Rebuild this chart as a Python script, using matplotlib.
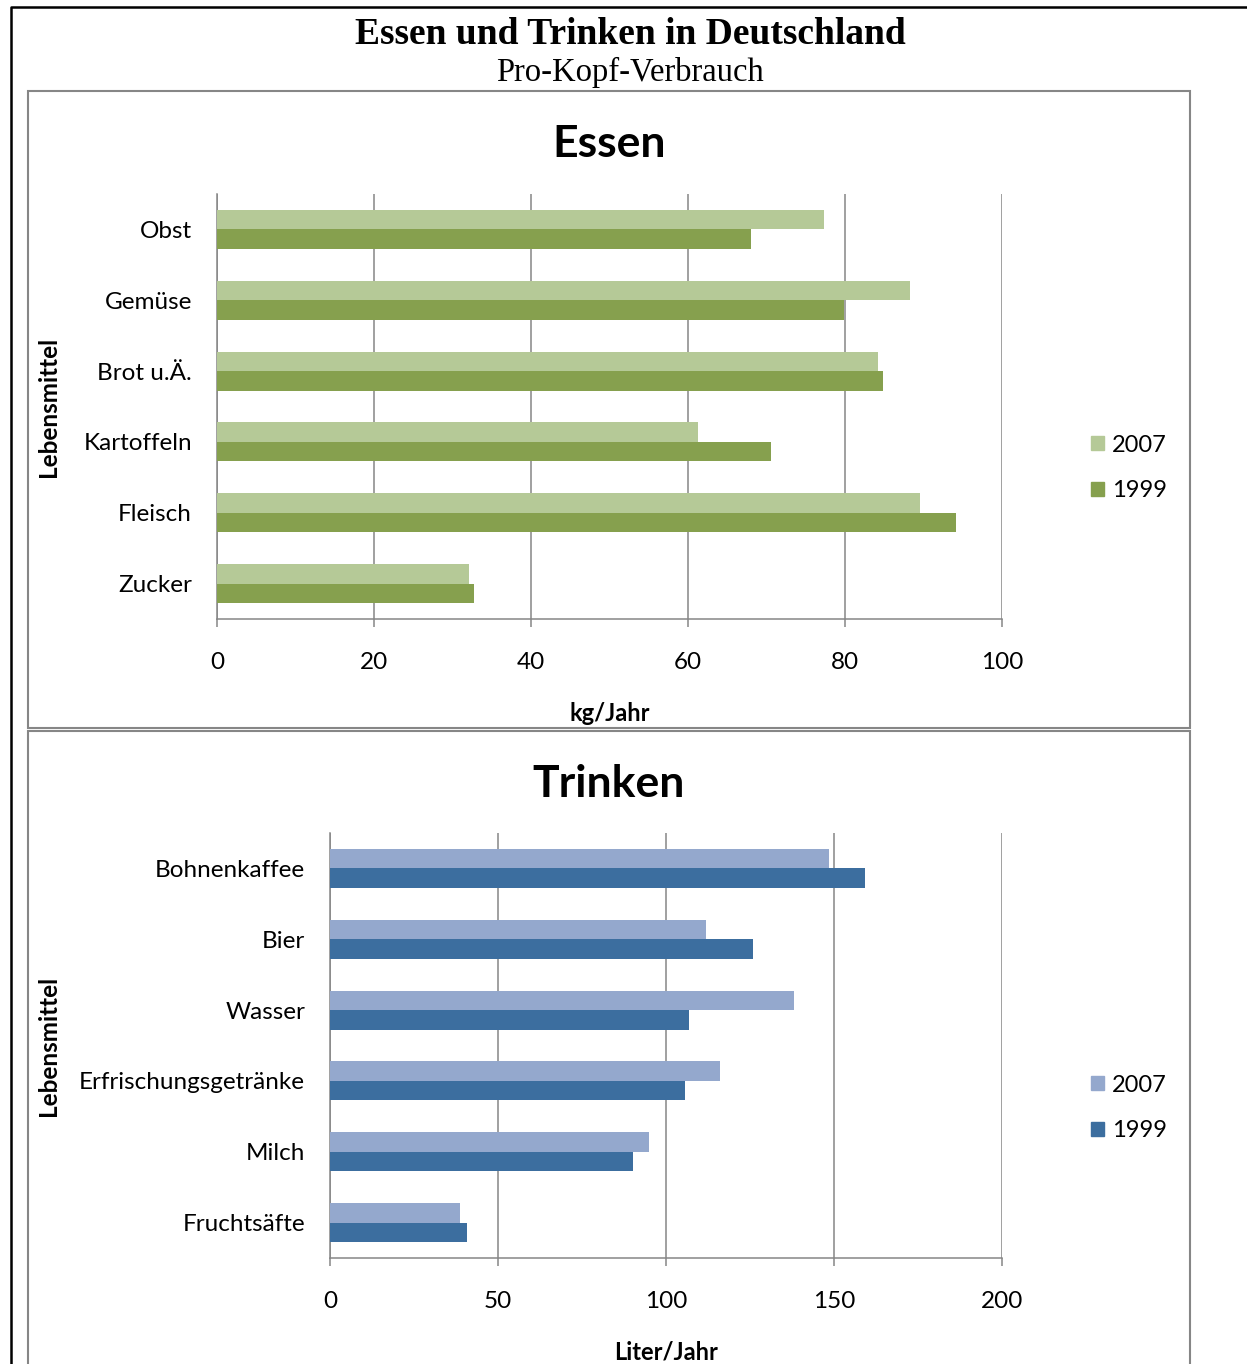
import matplotlib.pyplot as plt
import numpy as np
from matplotlib.patches import Rectangle, Patch
from matplotlib.lines import Line2D

# Pro-Kopf-Verbrauch, Werte je Kategorie
essen_kat = ['Obst', 'Gemüse', 'Brot u.Ä.', 'Kartoffeln', 'Fleisch', 'Zucker']
essen_2007 = [77.3, 88.3, 84.2, 61.3, 89.6, 32.1]
essen_1999 = [68.0, 79.9, 84.8, 70.6, 94.1, 32.7]

trinken_kat = ['Bohnenkaffee', 'Bier', 'Wasser', 'Erfrischungsgetränke', 'Milch', 'Fruchtsäfte']
trinken_2007 = [148.5, 111.9, 138.1, 116.1, 94.9, 38.7]
trinken_1999 = [159.2, 125.9, 106.8, 105.7, 90.2, 40.8]

jahre = ['2007', '1999']

W, H = 1247, 1364
GRAU = '#868686'
FONT = ['Lato', 'DejaVu Sans']

fig = plt.figure(figsize=(W / 100, H / 100), dpi=100)


def box(x0, y0, x1, y1):
    # Pixelkoordinaten (oben links) -> Figurkoordinaten
    return [x0 / W, 1 - y1 / H, (x1 - x0) / W, (y1 - y0) / H]


def rahmen(x0, y0, x1, y1, color, lw):
    fig.add_artist(Rectangle((x0 / W, 1 - y1 / H), (x1 - x0) / W, (y1 - y0) / H,
                             transform=fig.transFigure, fill=False,
                             edgecolor=color, linewidth=lw))


def chart(pos, kat, v07, v99, xmax, step, farben, titel, xlabel, title_y, legend_y):
    ax = fig.add_axes(box(*pos))
    y = np.arange(len(kat))
    h = 0.275
    ax.barh(y - h / 2, v07, height=h, color=farben[0], zorder=3)
    ax.barh(y + h / 2, v99, height=h, color=farben[1], zorder=3)
    ax.set_ylim(len(kat) - 0.5, -0.5)
    ax.set_xlim(0, xmax)
    ax.set_xticks(np.arange(0, xmax + 1, step))
    ax.set_yticks(y)
    ax.set_yticklabels(kat, fontfamily=FONT, fontsize=17.5)
    for lab in ax.get_xticklabels():
        lab.set_fontfamily(FONT)
        lab.set_fontsize(17.5)
    ax.tick_params(axis='y', length=0, pad=18)
    ax.tick_params(axis='x', length=5.5, width=1.1, color=GRAU, pad=18)
    ax.grid(axis='x', color=GRAU, linewidth=1.1, zorder=0)
    for s in ['top', 'right']:
        ax.spines[s].set_visible(False)
    for s in ['left', 'bottom']:
        ax.spines[s].set_color(GRAU)
        ax.spines[s].set_linewidth(1.1)
    ax.set_xlabel(xlabel, fontfamily=FONT, fontsize=17, fontweight='bold', labelpad=21)

    fig.text(609 / W, 1 - title_y / H, titel, ha='center', va='center',
             fontfamily=FONT, fontsize=32, fontweight='bold')
    fig.text(48 / W, 1 - (pos[1] + pos[3]) / 2 / H, 'Lebensmittel', rotation=90,
             ha='center', va='center', fontfamily=FONT, fontsize=17.5, fontweight='bold')

    handles = [Patch(color=farben[0]), Patch(color=farben[1])]
    fig.legend(handles, jahre, loc='center left',
               bbox_to_anchor=(1079 / W, 1 - legend_y / H), frameon=False,
               prop={'family': FONT, 'size': 17}, handlelength=0.55,
               handleheight=0.55, handletextpad=0.35, labelspacing=1.05,
               borderpad=0)
    return ax


chart((217, 194, 1002, 619), essen_kat, essen_2007, essen_1999, 100, 20,
      ['#B5C997', '#86A04E'], 'Essen', 'kg/Jahr', 144, 468)
chart((330, 833, 1002, 1258), trinken_kat, trinken_2007, trinken_1999, 200, 50,
      ['#94A8CD', '#3C6E9F'], 'Trinken', 'Liter/Jahr', 784, 1108)

# Rahmen der beiden Diagramme
rahmen(28, 91, 1190, 727.5, GRAU, 1.5)
rahmen(28, 731, 1190, 1380, GRAU, 1.5)

# äußerer Rahmen (oben und links)
fig.add_artist(Line2D([10.5 / W, 10.5 / W, 1.0], [0, 1 - 7 / H, 1 - 7 / H],
                      transform=fig.transFigure, color='black', linewidth=1.8))

fig.text(630 / W, 1 - 34 / H, 'Essen und Trinken in Deutschland', ha='center', va='center',
         fontfamily='Liberation Serif', fontsize=27, fontweight='bold')
fig.text(630 / W, 1 - 72 / H, 'Pro-Kopf-Verbrauch', ha='center', va='center',
         fontfamily='Liberation Serif', fontsize=23.5)

fig.savefig('out.png', dpi=100)
